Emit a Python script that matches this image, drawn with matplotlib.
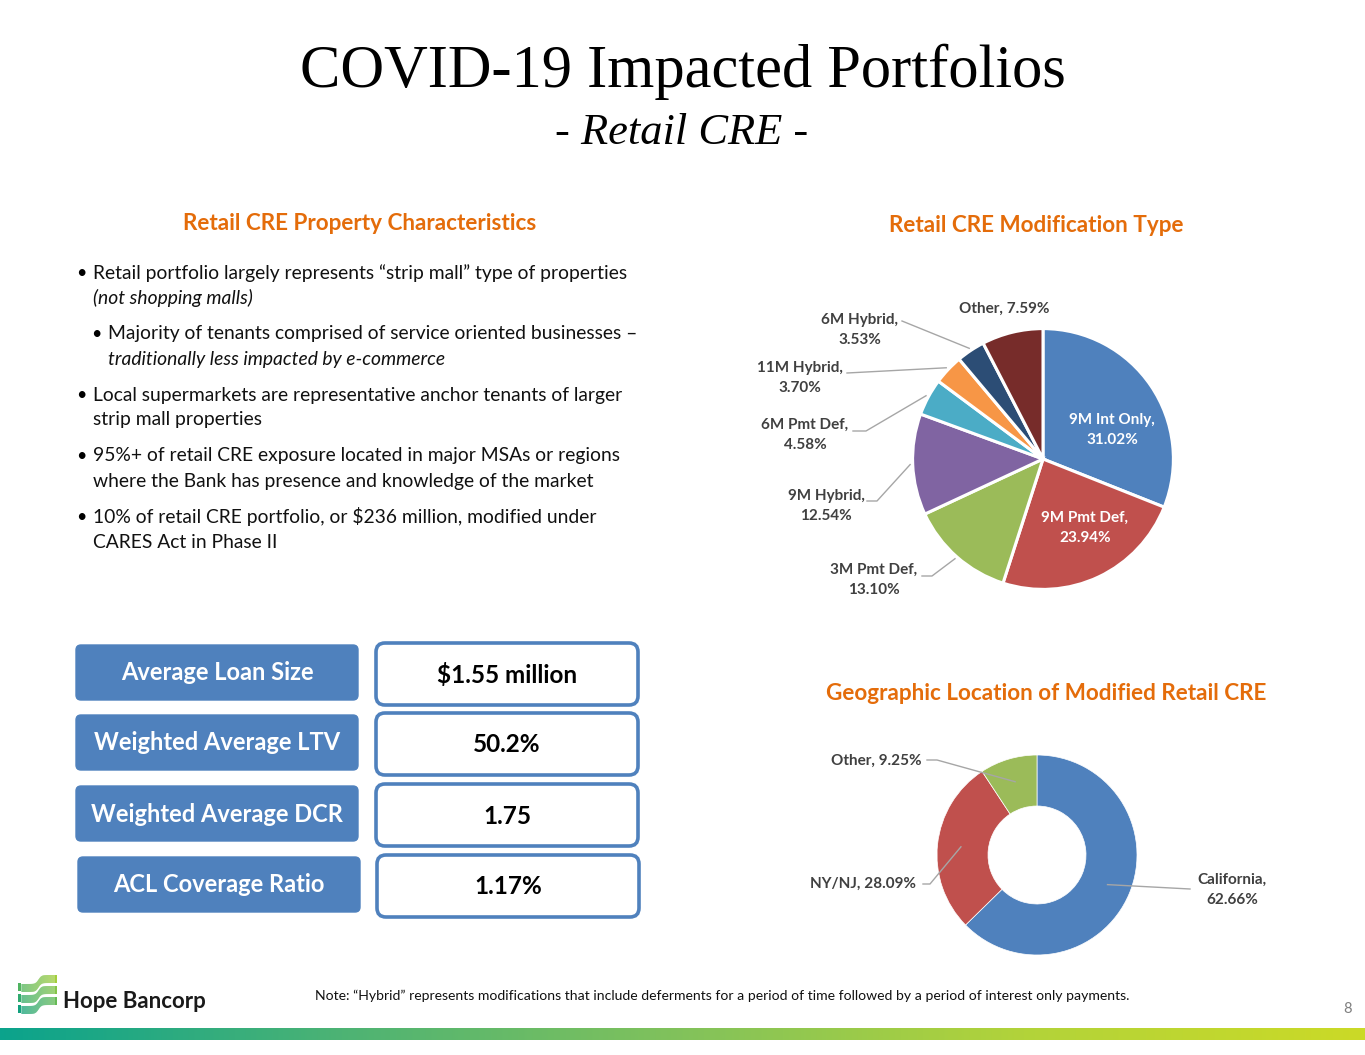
import numpy as np
import matplotlib
matplotlib.use("Agg")
import matplotlib.pyplot as plt
from matplotlib.patches import FancyBboxPatch
from matplotlib.colors import LinearSegmentedColormap

# ---------------- data ----------------
mod_labels = ["9M Int Only", "9M Pmt Def", "3M Pmt Def", "9M Hybrid",
              "6M Pmt Def", "11M Hybrid", "6M Hybrid", "Other"]
mod_values = [31.02, 23.94, 13.10, 12.54, 4.58, 3.70, 3.53, 7.59]
mod_colors = ["#4F81BD", "#C0504D", "#9BBB59", "#8064A2",
              "#4BACC6", "#F79646", "#2C4D75", "#772C2A"]

geo_labels = ["California", "NY/NJ", "Other"]
geo_values = [62.66, 28.09, 9.25]
geo_colors = ["#4F81BD", "#C0504D", "#9BBB59"]

stat_names = ["Average Loan Size", "Weighted Average LTV",
              "Weighted Average DCR", "ACL Coverage Ratio"]
stat_values = ["$1.55 million", "50.2%", "1.75", "1.17%"]

bullets = [
    (0, [("Retail portfolio largely represents \u201cstrip mall\u201d type of properties", "normal"),
         ("(not shopping malls)", "italic")]),
    (1, [("Majority of tenants comprised of service oriented businesses \u2013", "normal"),
         ("traditionally less impacted by e-commerce", "italic")]),
    (0, [("Local supermarkets are representative anchor tenants of larger", "normal"),
         ("strip mall properties", "normal")]),
    (0, [("95%+ of retail CRE exposure located in major MSAs or regions", "normal"),
         ("where the Bank has presence and knowledge of the market", "normal")]),
    (0, [("10% of retail CRE portfolio, or $236 million, modified under", "normal"),
         ("CARES Act in Phase II", "normal")]),
]

W, H = 1365, 1055
SANS = ["Lato", "DejaVu Sans"]
SERIF = ["Liberation Serif", "DejaVu Serif"]
ORANGE = "#E46C0A"
BLUE = "#4F81BD"

fig = plt.figure(figsize=(W / 100, H / 100), dpi=100)
fig.patch.set_facecolor("white")


def pie_axes(cx, cy, r):
    return fig.add_axes([(cx - r) / W, 1 - (cy + r) / H, 2 * r / W, 2 * r / H])


# ---------------- modification type pie ----------------
pc = (1043, 459, 133)
axp = pie_axes(*pc)
axp.pie(mod_values, colors=mod_colors, startangle=90, counterclock=False,
        radius=1, wedgeprops=dict(edgecolor="white", linewidth=2.2))
axp.set_xlim(-1.02, 1.02)
axp.set_ylim(-1.02, 1.02)
axp.axis("off")

# ---------------- geographic donut ----------------
dc = (1037, 855, 102)
axd = pie_axes(*dc)
axd.pie(geo_values, colors=geo_colors, startangle=90, counterclock=False,
        radius=1, wedgeprops=dict(width=0.51, edgecolor="white", linewidth=0.5))
axd.set_xlim(-1.02, 1.02)
axd.set_ylim(-1.02, 1.02)
axd.axis("off")

# ---------------- overlay in pixel coordinates ----------------
ax = fig.add_axes([0, 0, 1, 1], zorder=5)
ax.set_xlim(0, W)
ax.set_ylim(H, 0)
ax.axis("off")
ax.patch.set_alpha(0)


def mid_point(values, i, center, frac):
    cx, cy, r = center
    start = sum(values[:i])
    mid = start + values[i] / 2
    ang = np.deg2rad(90 - 360 * mid / sum(values))
    return cx + frac * r * np.cos(ang), cy - frac * r * np.sin(ang)


# titles
ax.text(683, 72, "COVID-19 Impacted Portfolios", family=SERIF, fontsize=43.6,
        ha="center", va="center")
ax.text(682, 133, "- Retail CRE -", family=SERIF, fontsize=32, style="italic",
        ha="center", va="center")

ax.text(360, 224, "Retail CRE Property Characteristics", family=SANS, fontsize=16.2,
        weight="bold", color=ORANGE, ha="center", va="center")
ax.text(1036, 226, "Retail CRE Modification Type", family=SANS, fontsize=16.2,
        weight="bold", color=ORANGE, ha="center", va="center")
ax.text(1046, 694, "Geographic Location of Modified Retail CRE", family=SANS,
        fontsize=16.2, weight="bold", color=ORANGE, ha="center", va="center")

# bullets
y = 273
for level, lines in bullets:
    bx = 76 + 15 * level
    tx = 93 + 15 * level
    ax.text(bx, y, "\u2022", family=SANS, fontsize=13, ha="left", va="center")
    for j, (line, st) in enumerate(lines):
        ax.text(tx, y + 25 * j, line, family=SANS, fontsize=13.9, style=st,
                ha="left", va="center", color="#111111")
    y += 61

# stat boxes
left_y = [645, 715, 786, 857]
right_y = [643, 713, 784, 855]
for i, (name, val) in enumerate(zip(stat_names, stat_values)):
    lx = 76 if i < 3 else 78
    ax.add_patch(FancyBboxPatch((lx, left_y[i]), 282, 55,
                                boxstyle="round,pad=0,rounding_size=5",
                                fc=BLUE, ec=BLUE, lw=1))
    ax.text(lx + 141, left_y[i] + 28, name, family=SANS, fontsize=17,
            weight="bold", color="white", ha="center", va="center")
    rx = 376 if i < 3 else 377
    ax.add_patch(FancyBboxPatch((rx, right_y[i]), 262, 62,
                                boxstyle="round,pad=0,rounding_size=9",
                                fc="white", ec=BLUE, lw=2.6))
    ax.text(rx + 131, right_y[i] + 32, val, family=SANS, fontsize=17.5,
            weight="bold", color="black", ha="center", va="center")

# pie labels
LEAD = "#A6A6A6"
lbl = dict(family=SANS, fontsize=11, weight="bold", color="#404040",
           ha="center", va="center", linespacing=1.55)
inside = {0: (1112, 430), 1: (1085, 528)}
for i, (x0, y0) in inside.items():
    ax.text(x0, y0, f"{mod_labels[i]},\n{mod_values[i]:.2f}%",
            **{**lbl, "color": "white"})

outside = {  # index: (text x, text y, line start, elbow)
    2: (874, 580, (922, 576), (932, 576)),
    3: (826, 506, (867, 501), (877, 501)),
    4: (805, 435, (853, 431), (866, 431)),
    5: (800, 378, (847, 373), None),
    6: (860, 330, (902, 321), None),
}
for i, (x0, y0, p0, elbow) in outside.items():
    ax.text(x0, y0, f"{mod_labels[i]},\n{mod_values[i]:.2f}%", **lbl)
    ex, ey = mid_point(mod_values, i, pc, 1.0)
    pts = [p0] + ([elbow] if elbow else []) + [(ex, ey)]
    ax.plot([p[0] for p in pts], [p[1] for p in pts], color=LEAD, lw=1)
ax.text(1004, 309, f"{mod_labels[7]}, {mod_values[7]:.2f}%", **lbl)

# donut labels
geo_text = {
    0: (1232, 890, "center", f"{geo_labels[0]},\n{geo_values[0]:.2f}%", (1190, 889), None),
    1: (916, 884, "right", f"{geo_labels[1]}, {geo_values[1]:.2f}%", (923, 884), (930, 884)),
    2: (922, 761, "right", f"{geo_labels[2]}, {geo_values[2]:.2f}%", (927, 760), (937, 760)),
}
for i, (x0, y0, ha, s, p0, elbow) in geo_text.items():
    ax.text(x0, y0, s, **{**lbl, "ha": ha})
    ex, ey = mid_point(geo_values, i, dc, 0.75)
    pts = [p0] + ([elbow] if elbow else []) + [(ex, ey)]
    ax.plot([p[0] for p in pts], [p[1] for p in pts], color=LEAD, lw=1)

# footer note and page number
ax.text(315, 996, "Note: \u201cHybrid\u201d represents modifications that include deferments "
        "for a period of time followed by a period of interest only payments.",
        family=SANS, fontsize=10.1, ha="left", va="center", color="#111111")
ax.text(1347, 1009, "8", family=SANS, fontsize=10.5, color="#7F7F7F",
        ha="center", va="center")

# gradient bar
bar_cmap = LinearSegmentedColormap.from_list(
    "bar", ["#0BA38C", "#4DB374", "#82C25B", "#B2D33A", "#CBDA27"])
ax.imshow(np.linspace(0, 1, 500)[None, :], cmap=bar_cmap, aspect="auto",
          extent=(0, W, 1040, 1028), zorder=2)
ax.set_xlim(0, W)
ax.set_ylim(H, 0)

# logo: three wavy bands
logo_cmap = LinearSegmentedColormap.from_list("logo", ["#11A07E", "#5DB85A", "#A9D03A"])
xs = np.linspace(18, 57, 40)
for k, base in enumerate([983, 994, 1005]):
    yc = base - 4.5 * np.tanh((xs - 38) / 3)
    for j in range(len(xs) - 1):
        c = logo_cmap((j / len(xs)) * 0.6 + (2 - k) * 0.2)
        ax.fill_between(xs[j:j + 2], yc[j:j + 2] - 4, yc[j:j + 2] + 4,
                        color=c, lw=0)
ax.text(63, 1002, "Hope Bancorp", family=SANS, fontsize=16, weight="bold",
        color="#1A1A1A", ha="left", va="center")

fig.savefig("out.png", dpi=100, facecolor="white")
